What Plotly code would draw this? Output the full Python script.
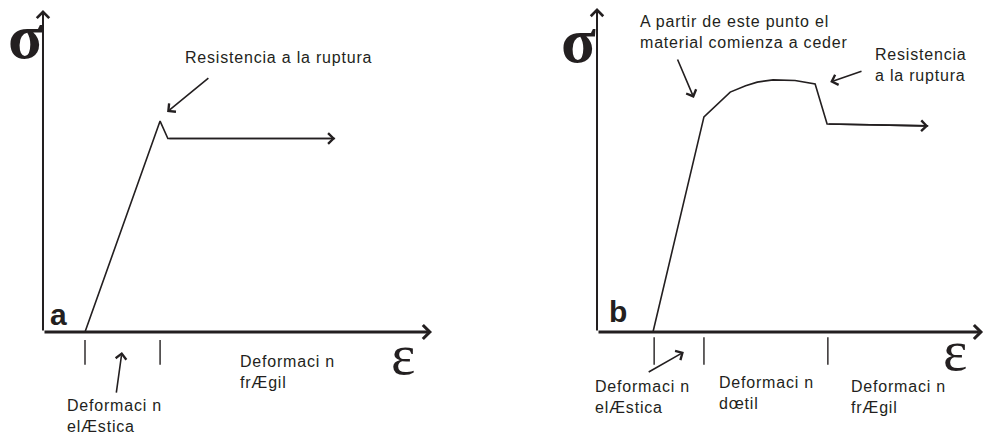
import plotly.graph_objects as go

# ---------------- data ----------------
# Panel a (brittle material): strain / stress polyline
strain_a = [1.08, 3.01, 3.21, 7.51]
stress_a = [0.0, 6.55, 6.01, 6.01]
# Panel b (ductile material)
strain_b = [1.45, 2.77, 3.45, 3.85, 4.15, 4.56, 5.13, 5.65, 5.96, 8.58]
stress_b = [0.0, 6.68, 7.45, 7.65, 7.76, 7.83, 7.81, 7.70, 6.46, 6.40]

# region boundaries marked under the strain axis
bounds_a = [1.08, 3.01]
bounds_b = [1.48, 2.77, 5.98]
tick_a = [-0.25, -1.02]
tick_b = [-0.16, -1.02]

# axis extents (arrow tips)
axis_a = (10.0, 10.0)
axis_b = (10.0, 10.06)

# labels
labels_a = [
    ("Resistencia a la ruptura", 3.60, 8.51),
    ("Deformaci n<br>frÆgil", 5.01, -1.24),
    ("Deformaci n<br>elÆstica", 0.57, -2.62),
]
labels_b = [
    ("A partir de este punto el<br>material comienza a ceder", 1.06, 9.32),
    ("Resistencia<br>a la ruptura", 7.15, 8.29),
    ("Deformaci n<br>elÆstica", -0.10, -2.02),
    ("Deformaci n<br>dœtil", 3.11, -1.89),
    ("Deformaci n<br>frÆgil", 6.53, -2.02),
]
# pointer arrows: (head_x, head_y, tail_x, tail_y)
pointers_a = [(3.19, 6.83, 4.29, 7.92), (2.03, -0.62, 1.88, -1.93)]
pointers_b = [(2.51, 7.27, 2.07, 8.51), (6.04, 7.76, 6.89, 8.11), (2.25, -0.62, 1.30, -1.27)]

INK = "#231f20"
SANS = "Liberation Sans, Arial, sans-serif"
SERIF = "Liberation Serif, Times New Roman, serif"


def sp(t):
    return '<span style="letter-spacing:0.8px">' + t + "</span>"


fig = go.Figure()


def ticks_xy(bounds, tk):
    xs, ys = [], []
    for b in bounds:
        xs += [b, b, None]
        ys += [tk[0], tk[1], None]
    return xs, ys


for xs, ys, bnd, tk, xa, ya in [
    (strain_a, stress_a, bounds_a, tick_a, "x", "y"),
    (strain_b, stress_b, bounds_b, tick_b, "x2", "y2"),
]:
    fig.add_trace(go.Scatter(x=xs, y=ys, mode="lines", xaxis=xa, yaxis=ya,
                             line=dict(color=INK, width=1.6), hoverinfo="skip",
                             showlegend=False))
    tx, ty = ticks_xy(bnd, tk)
    fig.add_trace(go.Scatter(x=tx, y=ty, mode="lines", xaxis=xa, yaxis=ya,
                             line=dict(color=INK, width=1.4), hoverinfo="skip",
                             showlegend=False))

ann = []


def arrow(xa, ya, x, y, ax, ay, w, head=4, size=1.0):
    ann.append(dict(xref=xa, yref=ya, axref=xa, ayref=ya, x=x, y=y, ax=ax, ay=ay,
                    text="", showarrow=True, arrowhead=head, arrowsize=size,
                    arrowwidth=w, arrowcolor=INK, standoff=0, startstandoff=0))


for xa, ya, ext, xs, ys, labels, ptrs, letter, lx, ly, sx, sy, ex, ey in [
    ("x", "y", axis_a, strain_a, stress_a, labels_a, pointers_a, "a", 0.39, 0.55, -0.46, 9.19, 9.25, -0.71),
    ("x2", "y2", axis_b, strain_b, stress_b, labels_b, pointers_b, "b", 0.54, 0.65, -0.47, 9.04, 9.27, -0.59),
]:
    # axes with open arrow heads
    arrow(xa, ya, ext[0], 0, 0, 0, 3.0, head=4, size=0.9)
    arrow(xa, ya, 0, ext[1], 0, 0, 2.0, head=4, size=1.2)
    # arrow at end of curve
    arrow(xa, ya, xs[-1], ys[-1], xs[-2], ys[-2], 1.6, head=4, size=1.3)
    for hx, hy, tx_, ty_ in ptrs:
        arrow(xa, ya, hx, hy, tx_, ty_, 1.6, head=4, size=1.3)
    for t, x, y in labels:
        ann.append(dict(xref=xa, yref=ya, x=x, y=y, text=sp(t), showarrow=False,
                        xanchor="left", yanchor="middle", align="left",
                        font=dict(family=SANS, size=16, color=INK)))
    ann.append(dict(xref=xa, yref=ya, x=lx, y=ly, text="<b>" + letter + "</b>",
                    showarrow=False, xanchor="center", yanchor="middle",
                    font=dict(family=SANS, size=30, color=INK)))
    ann.append(dict(xref=xa, yref=ya, x=sx, y=sy, text="<b>σ</b>", showarrow=False,
                    xanchor="center", yanchor="middle",
                    font=dict(family=SERIF, size=64, color=INK)))
    ann.append(dict(xref=xa, yref=ya, x=ex, y=ey, text="ε", showarrow=False,
                    xanchor="center", yanchor="middle",
                    font=dict(family=SERIF, size=58, color=INK)))

hidden = dict(visible=False, showgrid=False, zeroline=False, fixedrange=True)
fig.update_layout(
    width=985, height=436, margin=dict(l=0, r=0, t=0, b=0),
    paper_bgcolor="white", plot_bgcolor="white",
    xaxis=dict(domain=[0, 0.5], range=[-1.105, 11.555], **hidden),
    yaxis=dict(domain=[0, 1], range=[-3.23, 10.31], **hidden),
    xaxis2=dict(domain=[0.5, 1], range=[-2.707, 10.05], anchor="y2", **hidden),
    yaxis2=dict(domain=[0, 1], range=[-3.23, 10.31], anchor="x2", **hidden),
    annotations=ann,
    showlegend=False,
)

fig.write_html("out.html", config={"displayModeBar": False},
               post_script="document.body.style.margin='0';document.body.style.overflow='hidden';")
